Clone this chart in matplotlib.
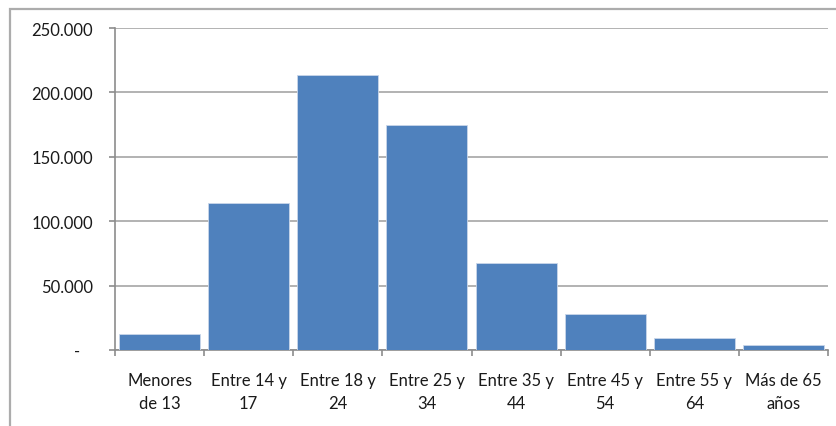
import matplotlib.pyplot as plt
from matplotlib.patches import Rectangle
from matplotlib.ticker import FuncFormatter, MultipleLocator
import numpy as np

# age groups and counts
categories = ["Menores\nde 13", "Entre 14 y\n17", "Entre 18 y\n24", "Entre 25 y\n34",
              "Entre 35 y\n44", "Entre 45 y\n54", "Entre 55 y\n64", "Más de 65\naños"]
values = [12400, 113900, 213500, 174500, 67500, 28200, 9100, 3600]

plt.rcParams['font.family'] = ['Lato', 'DejaVu Sans']

W, H = 836, 427
fig = plt.figure(figsize=(W / 100, H / 100), dpi=100)

# outer chart-area frame (runs off right and bottom)
fig.patches.append(Rectangle((10, -20), W + 40, H - 10 + 20, transform=None,
                             fill=False, edgecolor='#acacac', linewidth=1.6))

ax = fig.add_axes([115 / W, 1 - 351 / H, (828 - 115) / W, (351 - 29) / H])

x = np.arange(len(categories))
ax.bar(x, values, width=0.91, color='#4f81bd', edgecolor='#c9d6ea', linewidth=0.6, zorder=3)

ax.set_xlim(-0.5, len(categories) - 0.5)
ax.set_ylim(0, 250000)
ax.yaxis.set_major_locator(MultipleLocator(50000))
ax.yaxis.set_major_formatter(FuncFormatter(
    lambda v, p: '-   ' if v == 0 else f"{int(v):,}".replace(',', '.')))
ax.grid(axis='y', color='#a6a6a6', linewidth=1.2, zorder=0)

ax.set_xticks(x)
ax.set_xticklabels(categories, linespacing=1.5)
ax.set_xticks(np.arange(len(categories) + 1) - 0.5, minor=True)
ax.tick_params(axis='x', which='major', length=0, pad=16, labelsize=12, colors='#1a1a1a')
ax.tick_params(axis='x', which='minor', length=4.3, width=1.2, color='#8c8c8c', direction='out')
ax.tick_params(axis='y', length=4.3, width=1.2, color='#8c8c8c', pad=11.5, labelsize=12,
               labelcolor='#1a1a1a')

for s in ['top', 'right']:
    ax.spines[s].set_visible(False)
for s in ['left', 'bottom']:
    ax.spines[s].set_color('#8c8c8c')
    ax.spines[s].set_linewidth(1.2)

fig.savefig('out.png', dpi=100)
